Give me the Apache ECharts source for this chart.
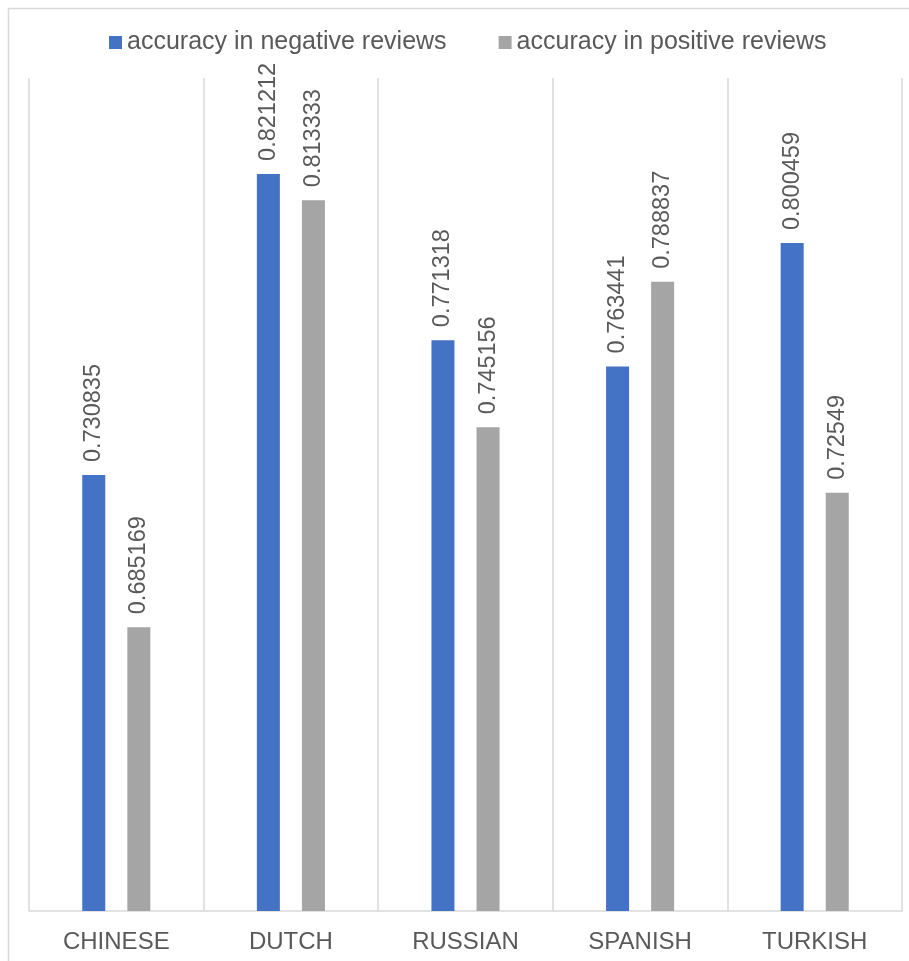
<!DOCTYPE html>
<html>
<head>
<meta charset="utf-8">
<script src="https://cdn.jsdelivr.net/npm/echarts@6/dist/echarts.min.js"></script>
<style>
html,body{margin:0;padding:0;background:#fff;}
#chart{width:909px;height:961px;}
</style>
</head>
<body>
<div id="chart"></div>
<script>
const categories = ['CHINESE', 'DUTCH', 'RUSSIAN', 'SPANISH', 'TURKISH'];
const negativeName = 'accuracy in negative reviews';
const positiveName = 'accuracy in positive reviews';
const negativeValues = [0.730835, 0.821212, 0.771318, 0.763441, 0.800459];
const positiveValues = [0.685169, 0.813333, 0.745156, 0.788837, 0.72549];

const textColor = '#595959';
const gridColor = '#d9d9d9';
const font = 'Liberation Sans, Arial, sans-serif';

const labelOpt = {
  show: true,
  position: 'top',
  rotate: 90,
  align: 'left',
  verticalAlign: 'middle',
  distance: 13,
  color: textColor,
  fontSize: 23.5,
  fontFamily: font
};

const chart = echarts.init(document.getElementById('chart'));
chart.setOption({
  animation: false,
  backgroundColor: '#fff',
  graphic: [{
    type: 'rect',
    left: 6, top: 6,
    shape: { width: 940, height: 990 },
    style: { fill: 'none', stroke: gridColor, lineWidth: 1.5 },
    silent: true
  }],
  legend: {
    left: 104,
    top: 25,
    itemWidth: 13,
    itemHeight: 13,
    itemGap: 52,
    icon: 'rect',
    textStyle: { color: textColor, fontSize: 25, fontFamily: font },
    data: [negativeName, positiveName]
  },
  grid: { left: 29, right: 7, top: 78, bottom: 50 },
  xAxis: {
    type: 'category',
    data: categories,
    axisLine: { lineStyle: { color: gridColor, width: 1.5 } },
    axisTick: { show: false },
    splitLine: { show: true, lineStyle: { color: gridColor, width: 1.5 } },
    axisLabel: { color: textColor, fontSize: 24, fontFamily: font, margin: 19 }
  },
  yAxis: {
    type: 'value',
    min: 0.6,
    max: 0.85,
    show: false,
    splitLine: { show: false }
  },
  series: [
    {
      name: negativeName,
      type: 'bar',
      data: negativeValues,
      barWidth: 23,
      barGap: '96%',
      itemStyle: { color: '#4472C4' },
      label: labelOpt
    },
    {
      name: positiveName,
      type: 'bar',
      data: positiveValues,
      barWidth: 23,
      itemStyle: { color: '#A5A5A5' },
      label: labelOpt
    }
  ]
});
</script>
</body>
</html>
